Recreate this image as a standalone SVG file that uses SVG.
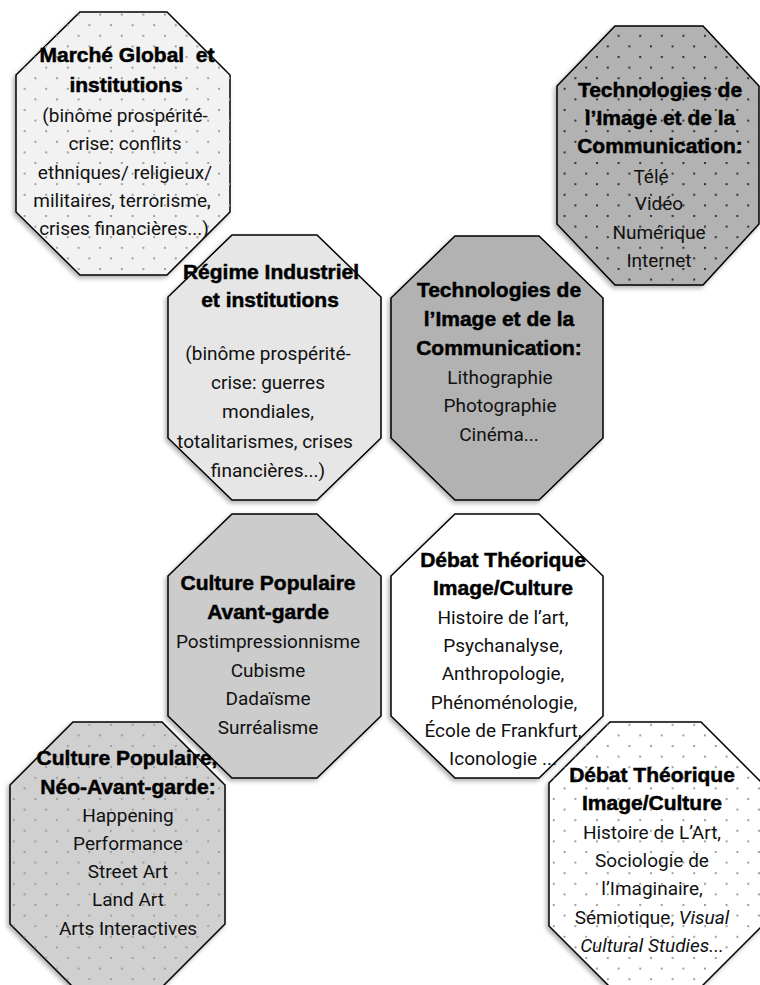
<svg xmlns="http://www.w3.org/2000/svg" width="760" height="985" viewBox="0 0 760 985">
<defs>
<filter id="sh" x="-10%" y="-10%" width="120%" height="125%">
<feDropShadow dx="-2" dy="2.5" stdDeviation="2" flood-color="#000" flood-opacity="0.3"/>
</filter>
<pattern id="dl" patternUnits="userSpaceOnUse" x="2" y="3" width="21.6" height="21.2">
<rect x="0" y="0" width="2" height="2" fill="#a0a0a0"/>
<rect x="10.8" y="10.6" width="2" height="2" fill="#a0a0a0"/>
</pattern>
<pattern id="dd" patternUnits="userSpaceOnUse" x="2" y="3" width="21.6" height="21.2">
<rect x="0" y="0" width="2" height="2" fill="#333"/>
<rect x="10.8" y="10.6" width="2" height="2" fill="#333"/>
</pattern>
</defs>
<style>
.o{stroke:#000;stroke-width:1.5;stroke-linejoin:miter}
.p{stroke:none}
.t{font-family:"Liberation Sans",Arial,sans-serif;font-weight:bold;font-size:21px;fill:#000;stroke:#000;stroke-width:0.5;text-anchor:middle}
.b{font-family:Roboto,"Liberation Sans",sans-serif;font-size:19px;fill:#111;text-anchor:middle}
.i{font-style:italic}
</style>
<g id="connectors"/>

<g id="n1">
<polygon class="o" filter="url(#sh)" fill="#f2f2f2" points="80,12 167,12 230,75 230,212 167,275 80,275 16,212 16,75"/>
<polygon class="p" fill="url(#dl)" points="80,12 167,12 230,75 230,212 167,275 80,275 16,212 16,75"/>
<text class="t" x="127" y="62" xml:space="preserve">Marché Global  et</text>
<text class="t" x="126" y="92">institutions</text>
<text class="b" x="125" y="122">(binôme prospérité-</text>
<text class="b" x="125" y="150">crise: conflits</text>
<text class="b" x="125" y="179">ethniques/ religieux/</text>
<text class="b" x="122" y="207">militaires, terrorisme,</text>
<text class="b" x="124" y="235">crises financières...)</text>
</g>

<g id="n8">
<polygon class="o" filter="url(#sh)" fill="#b2b2b2" points="615,26 703,26 759,86 759,224 703,285 615,285 557,224 557,86"/>
<polygon class="p" fill="url(#dd)" points="615,26 703,26 759,86 759,224 703,285 615,285 557,224 557,86"/>
<text class="t" x="660" y="97">Technologies de</text>
<text class="t" x="660" y="125">l’Image et de la</text>
<text class="t" x="660" y="153">Communication:</text>
<text class="b" x="651" y="183">Télé</text>
<text class="b" x="659" y="210">Vidéo</text>
<text class="b" x="659" y="239">Numérique</text>
<text class="b" x="659" y="267">Internet</text>
</g>

<g id="n2">
<polygon class="o" filter="url(#sh)" fill="#e6e6e6" points="232,235 317,235 381,297 381,438 317,500 232,500 168,438 168,297"/>
<text class="t" x="271" y="279">Régime Industriel</text>
<text class="t" x="270" y="307">et institutions</text>
<text class="b" x="268" y="360">(binôme prospérité-</text>
<text class="b" x="268" y="389">crise: guerres</text>
<text class="b" x="268" y="418">mondiales,</text>
<text class="b" x="265" y="448">totalitarismes, crises</text>
<text class="b" x="268" y="477">financières...)</text>
</g>

<g id="n3">
<polygon class="o" filter="url(#sh)" fill="#b2b2b2" points="455,236 539,236 603,298 603,438 539,500 455,500 391,438 391,298"/>
<text class="t" x="499" y="297">Technologies de</text>
<text class="t" x="499" y="326">l’Image et de la</text>
<text class="t" x="499" y="355">Communication:</text>
<text class="b" x="500" y="384">Lithographie</text>
<text class="b" x="500" y="412">Photographie</text>
<text class="b" x="499" y="441">Cinéma...</text>
</g>

<g id="n4">
<polygon class="o" filter="url(#sh)" fill="#cccccc" points="232,514 317,514 381,576 381,716 317,778 232,778 168,716 168,576"/>
<text class="t" x="268" y="590">Culture Populaire</text>
<text class="t" x="268" y="619">Avant-garde</text>
<text class="b" x="268" y="648">Postimpressionnisme</text>
<text class="b" x="268" y="677">Cubisme</text>
<text class="b" x="268" y="705">Dadaïsme</text>
<text class="b" x="268" y="734">Surréalisme</text>
</g>

<g id="n5">
<polygon class="o" filter="url(#sh)" fill="#ffffff" points="455,514 539,514 603,576 603,716 539,778 455,778 391,716 391,576"/>
<text class="t" x="503" y="567">Débat Théorique</text>
<text class="t" x="503" y="595">Image/Culture</text>
<text class="b" x="503" y="624">Histoire de l’art,</text>
<text class="b" x="503" y="652">Psychanalyse,</text>
<text class="b" x="503" y="680">Anthropologie,</text>
<text class="b" x="504" y="709">Phénoménologie,</text>
<text class="b" x="503" y="737">École de Frankfurt,</text>
<text class="b" x="503" y="765">Iconologie ...</text>
</g>

<g id="n6">
<polygon class="o" filter="url(#sh)" fill="#d0d0d0" points="73,722 162,722 225,785 225,924 162,987 73,987 10,924 10,785"/>
<polygon class="p" fill="url(#dl)" points="73,722 162,722 225,785 225,924 162,987 73,987 10,924 10,785"/>
<text class="t" x="127" y="765">Culture Populaire,</text>
<text class="t" x="128" y="794">Néo-Avant-garde:</text>
<text class="b" x="128" y="822">Happening</text>
<text class="b" x="128" y="850">Performance</text>
<text class="b" x="128" y="878">Street Art</text>
<text class="b" x="128" y="906">Land Art</text>
<text class="b" x="128" y="935">Arts Interactives</text>
</g>

<g id="n7">
<polygon class="o" filter="url(#sh)" fill="#ffffff" points="610,722 701,722 762,783 762,926 701,987 610,987 549,926 549,783"/>
<polygon class="p" fill="url(#dl)" points="610,722 701,722 762,783 762,926 701,987 610,987 549,926 549,783"/>
<text class="t" x="652" y="782">Débat Théorique</text>
<text class="t" x="652" y="810">Image/Culture</text>
<text class="b" x="652" y="839">Histoire de L’Art,</text>
<text class="b" x="652" y="867">Sociologie de</text>
<text class="b" x="652" y="895">l’Imaginaire,</text>
<text class="b" x="652" y="924">Sémiotique, <tspan class="i">Visual</tspan></text>
<text class="b i" x="652" y="952">Cultural Studies...</text>
</g>
</svg>
